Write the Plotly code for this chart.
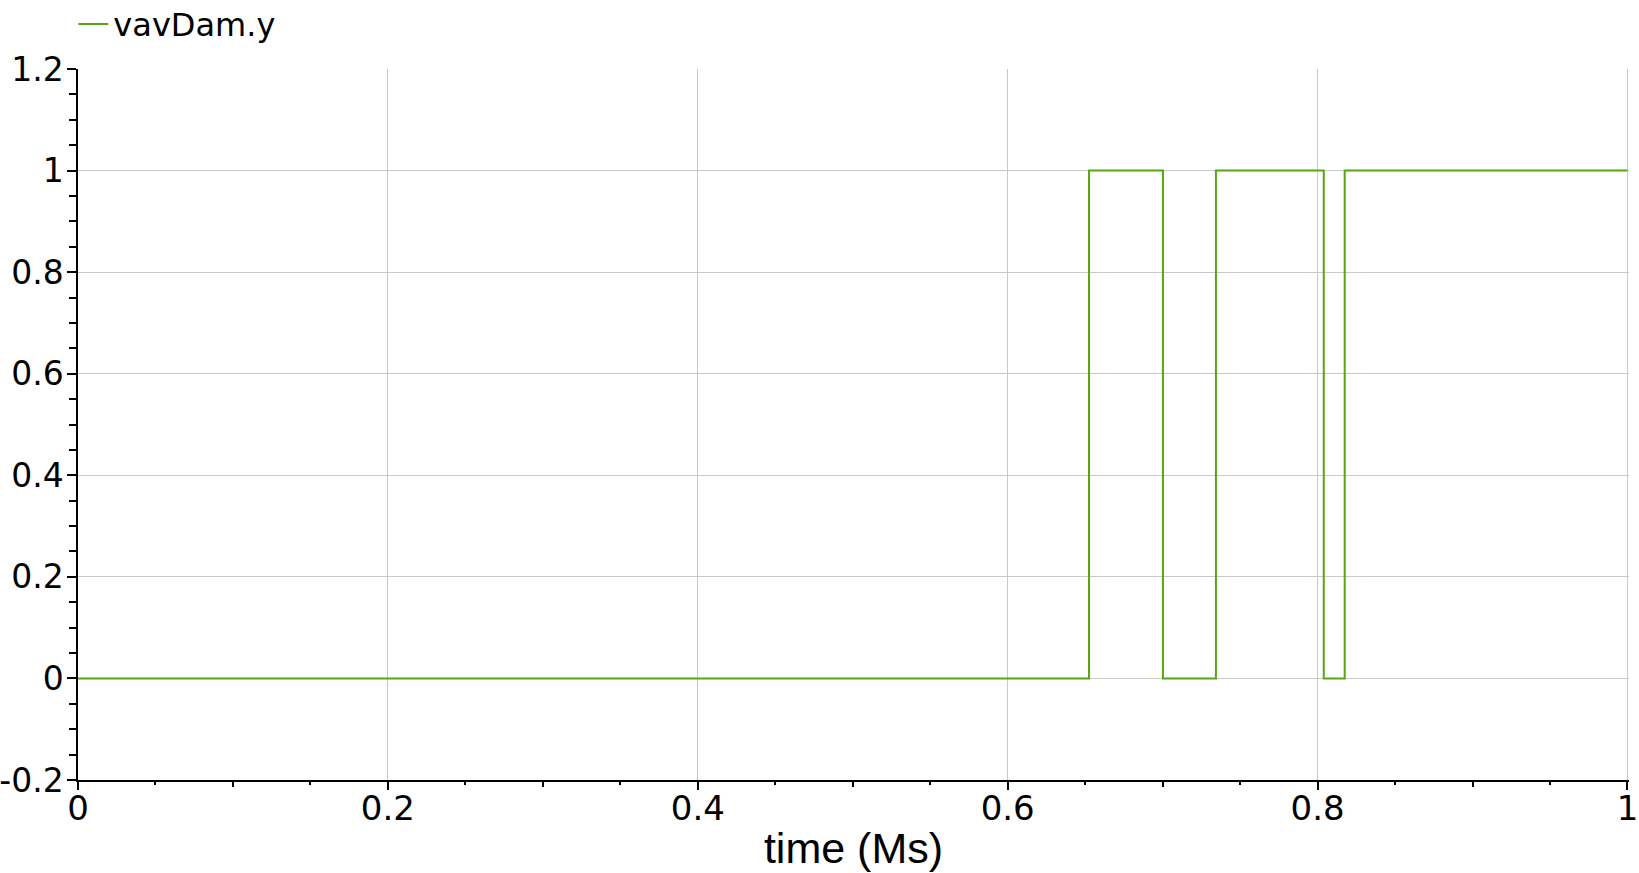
import plotly.graph_objects as go

time_ms = [0.0, 0.6525, 0.7002, 0.7344, 0.8040, 0.8175, 1.0]
vav_dam_y = [0, 1, 0, 1, 0, 1, 1]
series_name = "vavDam.y"
x_title = "time (Ms)"

x_major = [0, 0.2, 0.4, 0.6, 0.8, 1.0]
x_major_text = ["0", "0.2", "0.4", "0.6", "0.8", "1"]
x_mid = [0.1, 0.3, 0.5, 0.7, 0.9]
y_major = [-0.2, 0, 0.2, 0.4, 0.6, 0.8, 1.0, 1.2]
y_major_text = ["-0.2", "0", "0.2", "0.4", "0.6", "0.8", "1", "1.2"]

x_range = [0, 1.001]

fig = go.Figure()
fig.add_trace(go.Scatter(
    x=time_ms, y=vav_dam_y, mode="lines", line_shape="hv",
    line=dict(color="#56a70e", width=2), name=series_name, showlegend=True,
))
fig.add_trace(go.Scatter(x=[0, 1], y=[None, None], xaxis="x2", showlegend=False,
                         hoverinfo="skip", mode="lines"))

fig.update_layout(
    width=1639, height=873,
    margin=dict(l=78, r=10, t=69, b=93, autoexpand=False),
    plot_bgcolor="white", paper_bgcolor="white",
    showlegend=True,
    legend=dict(x=-0.003, y=1.063, xanchor="left", yanchor="middle",
                font=dict(family="DejaVu Sans", size=32, color="black"),
                bgcolor="rgba(0,0,0,0)", itemwidth=30, tracegroupgap=0),
    xaxis=dict(
        range=x_range, tickmode="array", tickvals=x_major, ticktext=x_major_text,
        automargin=False, ticklabeloverflow="allow", ticklabelstandoff=-11,
        showgrid=True, gridcolor="#c8c8c8", gridwidth=1, zeroline=False,
        showline=True, linecolor="black", linewidth=1.5,
        ticks="outside", ticklen=8, tickcolor="black", tickwidth=1.5,
        tickfont=dict(family="DejaVu Sans", size=34, color="black"),
        minor=dict(dtick=0.05, tick0=0, ticks="outside", ticklen=3,
                   tickcolor="black", tickwidth=1.5, showgrid=False),
        title=dict(text=x_title, font=dict(family="Liberation Sans", size=43, color="black"),
                   standoff=6),
    ),
    xaxis2=dict(
        range=x_range, overlaying="x", side="bottom", anchor="y",
        tickmode="array", tickvals=x_mid, ticktext=[""] * len(x_mid),
        showgrid=False, zeroline=False, showline=False, automargin=False,
        ticks="outside", ticklen=6, tickcolor="black", tickwidth=1.5,
        showticklabels=False,
    ),
    yaxis=dict(
        range=[-0.2, 1.2], tickmode="array", tickvals=y_major, ticktext=y_major_text,
        automargin=False, ticklabeloverflow="allow", ticklabelstandoff=-3,
        showgrid=True, gridcolor="#c8c8c8", gridwidth=1, zeroline=False,
        showline=True, linecolor="black", linewidth=1.5,
        ticks="outside", ticklen=9, tickcolor="black", tickwidth=1.5,
        tickfont=dict(family="DejaVu Sans", size=33, color="black"),
        minor=dict(dtick=0.05, tick0=0, ticks="outside", ticklen=7,
                   tickcolor="black", tickwidth=1.5, showgrid=False),
    ),
)

fig.write_html(
    "out.html",
    config={"displayModeBar": False},
    post_script="document.body.style.margin='0';document.body.style.overflow='hidden';",
)
